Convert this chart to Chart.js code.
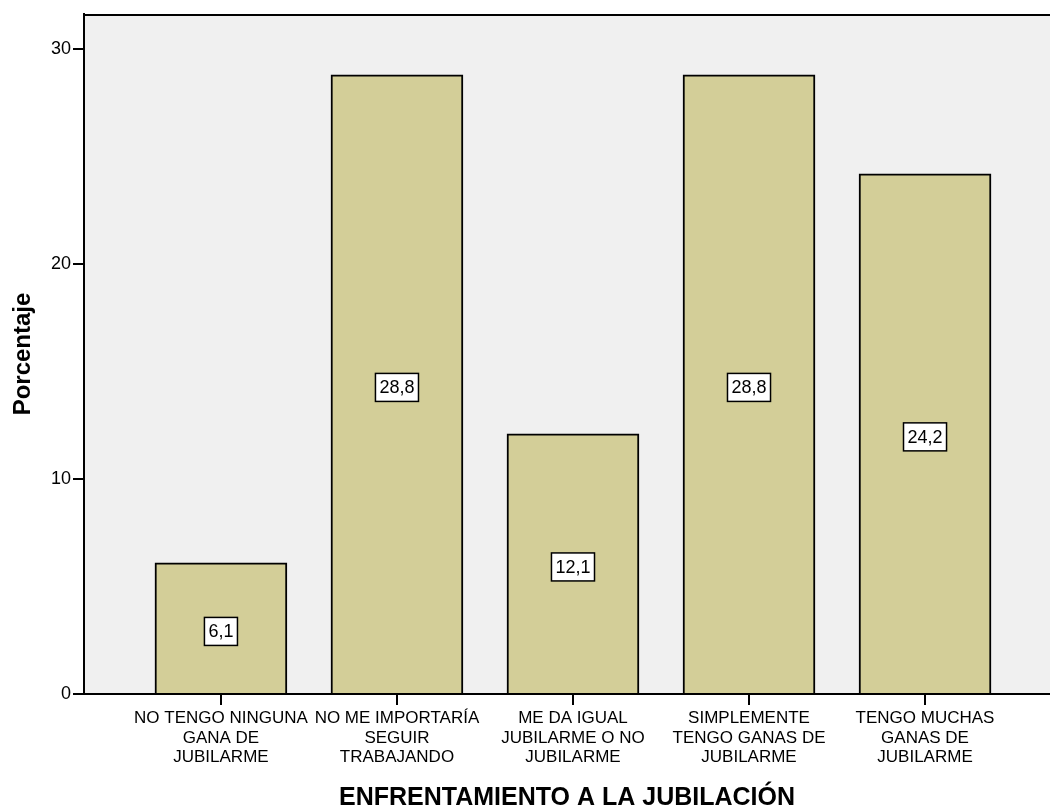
<!DOCTYPE html>
<html><head><meta charset="utf-8">
<script src="https://cdn.jsdelivr.net/npm/chart.js@4/dist/chart.umd.min.js"></script>
<style>html,body{margin:0;padding:0;background:#fff}#w{width:1050px;height:807px}</style>
</head><body><div id="w"><canvas id="c"></canvas></div>
<script>
const categories = [
  ["NO TENGO NINGUNA","GANA DE","JUBILARME"],
  ["NO ME IMPORTARÍA","SEGUIR","TRABAJANDO"],
  ["ME DA IGUAL","JUBILARME O NO","JUBILARME"],
  ["SIMPLEMENTE","TENGO GANAS DE","JUBILARME"],
  ["TENGO MUCHAS","GANAS DE","JUBILARME"]
];
const values = [6.1, 28.8, 12.1, 28.8, 24.2];
const valueLabels = ["6,1","28,8","12,1","28,8","24,2"];
const yTicks = [0, 10, 20, 30];
const FONT = "'Liberation Sans', Arial, sans-serif";

const bgPlugin = {
  id: 'bg',
  beforeDraw(chart) {
    const {ctx, chartArea: a} = chart;
    ctx.save();
    ctx.fillStyle = '#f0f0f0';
    ctx.fillRect(a.left, a.top, a.right - a.left, a.bottom - a.top);
    ctx.restore();
  },
  afterDatasetsDraw(chart) {
    const {ctx, chartArea: a} = chart;
    ctx.save();
    ctx.strokeStyle = '#000';
    ctx.lineWidth = 2;
    ctx.beginPath();
    ctx.moveTo(a.left, a.top + 1);
    ctx.lineTo(a.right, a.top + 1);
    ctx.stroke();
    const meta = chart.getDatasetMeta(0);
    const ys = chart.scales.y;
    ctx.font = "18px " + FONT;
    ctx.textAlign = 'center';
    ctx.textBaseline = 'middle';
    meta.data.forEach((bar, i) => {
      const cx = bar.x;
      const cy = ys.getPixelForValue(values[i] / 2) + 3;
      const t = valueLabels[i];
      const w = ctx.measureText(t).width + 8;
      const h = 28;
      ctx.fillStyle = '#fff';
      ctx.fillRect(cx - w / 2, cy - h / 2, w, h);
      ctx.strokeStyle = '#000';
      ctx.lineWidth = 1.5;
      ctx.strokeRect(cx - w / 2, cy - h / 2, w, h);
      ctx.fillStyle = '#000';
      ctx.fillText(t, cx, cy + 1);
    });
    ctx.restore();
  }
};

new Chart(document.getElementById('c'), {
  type: 'bar',
  data: {
    datasets: [{
      data: values.map((v, i) => ({x: i + 1, y: v})),
      backgroundColor: '#d3ce98',
      borderColor: '#000',
      borderWidth: 2,
      barThickness: 132
    }]
  },
  options: {
    responsive: true,
    maintainAspectRatio: false,
    animation: false,
    layout: {padding: {top: 14, right: 0, left: 9, bottom: 0}},
    plugins: {legend: {display: false}, tooltip: {enabled: false}},
    scales: {
      x: {
        type: 'linear',
        offset: false,
        min: 0.222,
        max: 5.71,
        afterBuildTicks(s) { s.ticks = categories.map((c, i) => ({value: i + 1})); },
        afterFit(s) { s.height = 113; },
        ticks: {
          autoSkip: false, maxRotation: 0, minRotation: 0,
          color: '#000', padding: 4,
          font: {family: FONT, size: 17, lineHeight: 1.13},
          callback(v) { return categories[Math.round(v) - 1] || ''; }
        },
        grid: {offset: false, drawOnChartArea: false, tickLength: 11, color: '#000', lineWidth: 2},
        border: {color: '#000', width: 2},
        title: {
          display: true, text: 'ENFRENTAMIENTO A LA JUBILACIÓN', color: '#000',
          font: {family: FONT, size: 25, weight: 'bold', lineHeight: 0.75}, padding: {top: 16, bottom: 0}
        }
      },
      y: {
        min: 0,
        max: 31.63,
        afterBuildTicks(s) { s.ticks = yTicks.map(v => ({value: v})); },
        afterFit(s) { s.width = 75; },
        ticks: {color: '#000', padding: 2, font: {family: FONT, size: 18}},
        grid: {drawOnChartArea: false, tickLength: 11, color: '#000', lineWidth: 2},
        border: {color: '#000', width: 2},
        title: {
          display: true, text: 'Porcentaje', color: '#000',
          font: {family: FONT, size: 24, weight: 'bold'}, padding: {top: 0, bottom: 12}
        }
      }
    }
  },
  plugins: [bgPlugin]
});
</script>
</body></html>
